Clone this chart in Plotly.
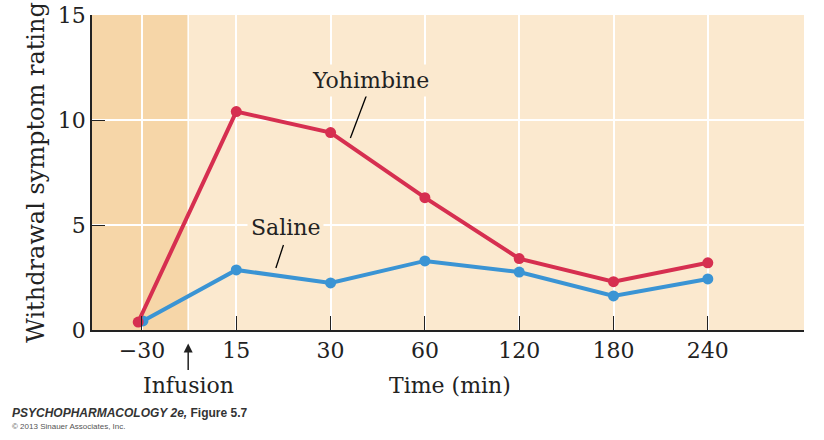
import plotly.graph_objects as go

# time points (min) shown as evenly spaced categories
times = ["\u221230", "15", "30", "60", "120", "180", "240"]
yohimbine = [0.38, 10.4, 9.4, 6.3, 3.4, 2.3, 3.2]
saline = [0.43, 2.86, 2.24, 3.29, 2.76, 1.62, 2.43]

RED = "#d62f50"
BLUE = "#3a94d4"
DARK_BG = "#f6d6a8"
LIGHT_BG = "#fbe9cf"
SERIF = "DejaVu Serif, Liberation Serif, serif"
INK = "#222"

idx = list(range(len(times)))
# small dodge so the two first points do not hide each other
red_x = [i - 0.04 if i == 0 else i for i in idx]
blue_x = [i + 0.01 if i == 0 else i for i in idx]

fig = go.Figure()

fig.add_trace(go.Scatter(x=blue_x, y=saline, mode="lines+markers",
                         line=dict(color=BLUE, width=4),
                         marker=dict(color=BLUE, size=11),
                         name="Saline", showlegend=False))
fig.add_trace(go.Scatter(x=red_x, y=yohimbine, mode="lines+markers",
                         line=dict(color=RED, width=4),
                         marker=dict(color=RED, size=11),
                         name="Yohimbine", showlegend=False))

# background: darker band before the infusion
fig.add_shape(type="rect", xref="x", yref="paper", x0=-0.6, x1=0.49, y0=0, y1=1,
              fillcolor=DARK_BG, line_width=0, layer="below")
fig.add_shape(type="line", xref="x", yref="paper", x0=0.49, x1=0.49, y0=0, y1=1,
              line=dict(color="white", width=1.5), layer="below")

# leader lines for series labels
fig.add_shape(type="line", xref="x", yref="y", x0=2.39, y0=11.29, x1=2.21, y1=9.14,
              line=dict(color="black", width=1.3))
fig.add_shape(type="line", xref="x", yref="y", x0=1.50, y0=4.05, x1=1.42, y1=2.95,
              line=dict(color="black", width=1.3))

fig.add_annotation(x=2.42, y=11.9, xref="x", yref="y", text="Yohimbine", showarrow=False,
                   font=dict(family=SERIF, size=22, color=INK),
                   bgcolor=LIGHT_BG, borderpad=3)
fig.add_annotation(x=1.52, y=4.86, xref="x", yref="y", text="Saline", showarrow=False,
                   font=dict(family=SERIF, size=22, color=INK),
                   bgcolor=LIGHT_BG, borderpad=3)

# infusion marker
fig.add_annotation(x=0.49, y=-0.043, xref="x", yref="paper", text="", showarrow=True,
                   ax=0, ay=28, arrowhead=2, arrowsize=1.2, arrowwidth=1.5,
                   arrowcolor=INK)
fig.add_annotation(x=0.49, y=-0.175, xref="x", yref="paper", text="Infusion", showarrow=False,
                   font=dict(family=SERIF, size=22, color=INK), yanchor="middle")
fig.add_annotation(x=3.27, y=-0.175, xref="x", yref="paper", text="Time (min)", showarrow=False,
                   font=dict(family=SERIF, size=22, color=INK), yanchor="middle")

# credit lines
fig.add_annotation(x=-0.115, y=-0.263, xref="paper", yref="paper", xanchor="left",
                   yanchor="middle",
                   text="<b><i>PSYCHOPHARMACOLOGY 2e,</i> Figure 5.7</b>", showarrow=False,
                   font=dict(family="Liberation Sans, Arial, sans-serif", size=12, color="#333"))
fig.add_annotation(x=-0.115, y=-0.305, xref="paper", yref="paper", xanchor="left",
                   yanchor="middle",
                   text="\u00a9 2013 Sinauer Associates, Inc.", showarrow=False,
                   font=dict(family="Liberation Sans, Arial, sans-serif", size=8, color="#555"))

fig.update_xaxes(range=[-0.53, 7.02], tickvals=idx, ticktext=times, automargin=False,
                 ticks="inside", ticklen=14, tickcolor=INK, tickwidth=1.3,
                 showline=True, linecolor=INK, linewidth=1.5,
                 showgrid=True, gridcolor="white", gridwidth=1.5, zeroline=False,
                 tickfont=dict(family=SERIF, size=22, color=INK))
fig.update_yaxes(range=[0, 15], tickvals=[0, 5, 10, 15], automargin=False,
                 ticks="inside", ticklen=13, tickcolor=INK, tickwidth=1.3,
                 showline=True, linecolor=INK, linewidth=1.5, ticklabeloverflow="allow",
                 showgrid=True, gridcolor="white", gridwidth=1.5, zeroline=False,
                 tickfont=dict(family=SERIF, size=22, color=INK),
                 title=dict(text="Withdrawal symptom rating", standoff=6,
                            font=dict(family=SERIF, size=24, color=INK)))

fig.update_layout(width=824, height=440,
                  margin=dict(l=92, r=20, t=15, b=110),
                  plot_bgcolor=LIGHT_BG, paper_bgcolor="white",
                  font=dict(family=SERIF))

# drop the default page margin so the figure sits at the window corner
fig.write_html("out.html", config={"displayModeBar": False},
               post_script="document.body.style.margin='0';")
